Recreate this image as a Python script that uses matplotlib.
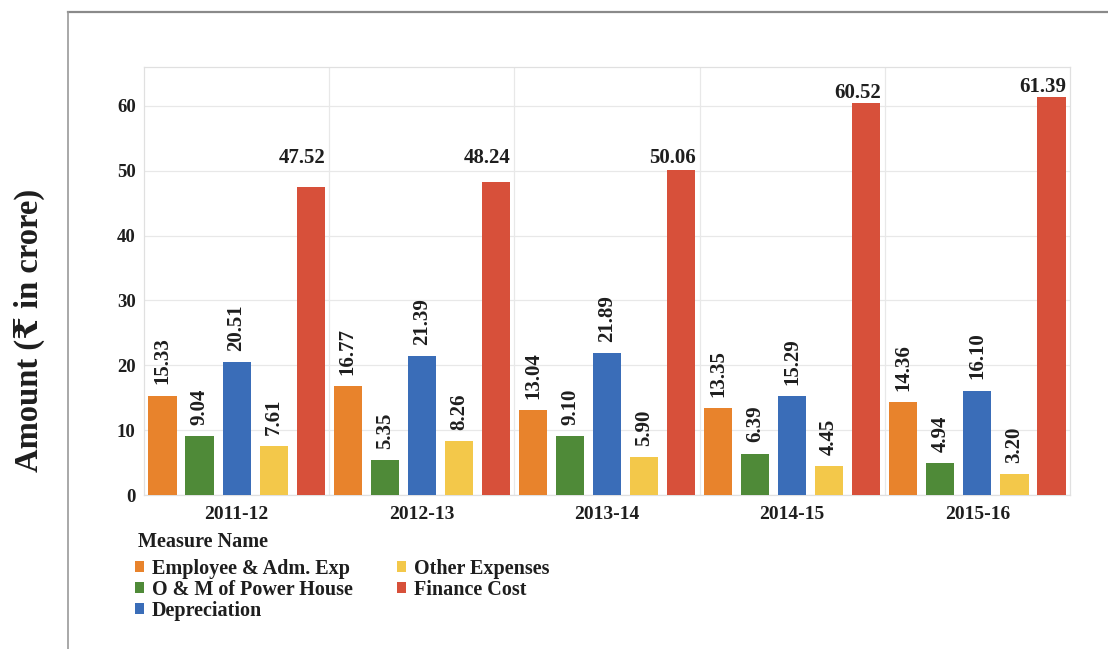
import matplotlib
matplotlib.use("Agg")
import matplotlib.pyplot as plt
import numpy as np
from matplotlib.patches import Patch
from matplotlib.lines import Line2D

plt.rcParams['font.family'] = ['Liberation Serif', 'DejaVu Serif']
plt.rcParams['font.weight'] = 'bold'

years = ["2011-12", "2012-13", "2013-14", "2014-15", "2015-16"]
series_names = ["Employee & Adm. Exp", "O & M of Power House", "Depreciation",
                "Other Expenses", "Finance Cost"]
employee = [15.33, 16.77, 13.04, 13.35, 14.36]
om_power = [9.04, 5.35, 9.10, 6.39, 4.94]
depreciation = [20.51, 21.39, 21.89, 15.29, 16.10]
other_exp = [7.61, 8.26, 5.90, 4.45, 3.20]
finance = [47.52, 48.24, 50.06, 60.52, 61.39]
yticks = [0, 10, 20, 30, 40, 50, 60]

colors = ["#E8832C", "#4F8A38", "#3A6DB8", "#F3C84A", "#D7503A"]
series = [employee, om_power, depreciation, other_exp, finance]
ink = "#1e1e1e"

fig = plt.figure(figsize=(11.08, 6.49), dpi=100)
W, H = 1108, 649

# outer page frame
fig.add_artist(Line2D([68 / W, 1.0], [1 - 12 / H, 1 - 12 / H], color="#8a8a8a", lw=1.6))
fig.add_artist(Line2D([68 / W, 68 / W], [0, 1 - 12 / H], color="#9a9a9a", lw=1.2))

ax = fig.add_axes([144 / W, 1 - 495 / H, (1070 - 144) / W, (495 - 67) / H])
x = np.arange(len(years))
offsets = [-0.4, -0.2, 0.0, 0.2, 0.4]
bw = 0.152
# horizontal finance labels sit no lower than this level
finance_label_floor = 50.5

for vals, off, col, name in zip(series, offsets, colors, series_names):
    bars = ax.bar(x + off, vals, width=bw, color=col, label=name, zorder=3)
    for b, v in zip(bars, vals):
        cx = b.get_x() + b.get_width() / 2
        if name == "Finance Cost":
            ax.annotate(f"{v:.2f}", (cx, max(v, finance_label_floor)), xytext=(-6, 0),
                        textcoords="offset points", ha="center", va="bottom",
                        fontsize=15, fontweight="bold", color=ink, annotation_clip=False)
        else:
            ax.annotate(f"{v:.2f}", (cx, v), xytext=(0, 8), textcoords="offset points",
                        ha="center", va="bottom", rotation=90, fontsize=15,
                        fontweight="bold", color=ink)

ax.set_xlim(-0.5, len(years) - 0.5)
ax.set_ylim(0, 66)
ax.set_yticks(yticks)
ax.set_yticklabels([str(t) for t in yticks], fontsize=13.5, fontweight="bold", color=ink)
ax.set_xticks(x)
ax.set_xticklabels(years, fontsize=14, fontweight="bold", color=ink)
ax.tick_params(axis="x", length=0, pad=8)
ax.tick_params(axis="y", length=0, pad=6)
ax.grid(axis="y", color="#e8e8e8", lw=0.9, zorder=0)
for b in np.arange(0.5, len(years) - 0.5, 1.0):
    ax.axvline(b, color="#e8e8e8", lw=0.9, zorder=0)
for s in ax.spines.values():
    s.set_color("#e0e0e0")
    s.set_linewidth(0.9)

fig.text(29 / W, 1 - 330 / H, "Amount (₹ in crore)", rotation=90, ha="center", va="center",
         fontsize=23.5, fontweight="bold", color=ink)

fig.text(138 / W, 1 - 542 / H, "Measure Name", ha="left", va="center",
         fontsize=14.5, fontweight="bold", color=ink)

handles = [Patch(facecolor=c, edgecolor="none") for c in colors]
leg = fig.legend(handles, series_names, loc="upper left", ncol=2,
                 bbox_to_anchor=(135 / W, 1 - 559 / H), frameon=False,
                 prop={"size": 14.5, "weight": "bold"},
                 handlelength=0.45, handleheight=0.45, handletextpad=0.4,
                 labelspacing=0.05, columnspacing=2.2, borderpad=0.0,
                 borderaxespad=0.0)
for t in leg.get_texts():
    t.set_color(ink)

fig.savefig("out.png", dpi=100)
